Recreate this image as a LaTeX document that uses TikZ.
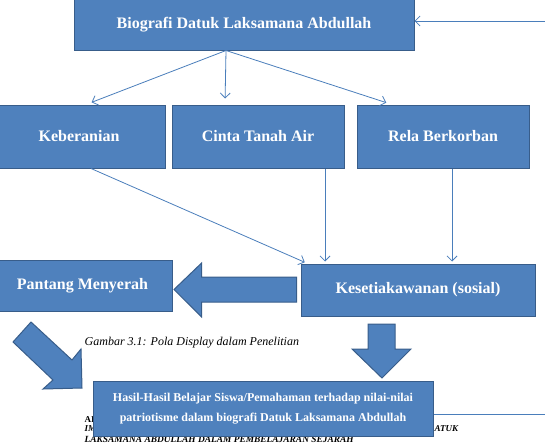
\documentclass[tikz,border=0pt]{standalone}
\usepackage{fontspec}
\setmainfont{Liberation Serif}
\usetikzlibrary{arrows.meta}
\definecolor{biruKotak}{HTML}{4F81BD}
\definecolor{biruTepi}{HTML}{385D8A}
\definecolor{biruGaris}{HTML}{4A7EBB}

\begin{document}
\begin{tikzpicture}[
    x=1pt, y=-1pt,
    % kotak biru dengan tulisan putih tebal
    kotak/.style={rectangle, draw=biruTepi, fill=biruKotak, line width=1pt, inner sep=0pt, text=white, font=\fontsize{16}{19}\selectfont\bfseries},
    % panah tipis antar kotak
    panahTipis/.style={-{Straight Barb[length=5pt,width=10pt]}, color=biruGaris, line width=0.8pt},
    panahBlok/.style={draw=biruTepi, fill=biruKotak, line width=1pt, line join=miter},
    sisaHalaman/.style={anchor=west, inner sep=0pt, font=\fontsize{9}{10}\selectfont\bfseries}
]
    \useasboundingbox (0,0) rectangle (545,442);

    % --- TEKS HALAMAN DI BELAKANG KOTAK ---
    \node[sisaHalaman] (sisaA) at (84.5,420) {AI};
    \node[sisaHalaman, font=\fontsize{9}{10}\selectfont\bfseries\itshape] (sisaB) at (84.5,428.5) {IM};
    \node[sisaHalaman, font=\fontsize{9}{10}\selectfont\bfseries\itshape] (sisaC) at (434.5,429) {ATUK};
    \node[sisaHalaman, font=\fontsize{9.4}{10}\selectfont\bfseries\itshape, anchor=north west] (sisaD) at (84.5,436.5) {LAKSAMANA ABDULLAH DALAM PEMBELAJARAN SEJARAH};

    % --- KOTAK-KOTAK ---
    \node[kotak, minimum width=340pt, minimum height=51pt] (bio) at (244,24.5) {Biografi Datuk Laksamana Abdullah};

    \node[kotak, minimum width=172pt, minimum height=63pt] (keb)   at (79,136.5)  {Keberanian};
    \node[kotak, minimum width=172pt, minimum height=63pt] (cinta) at (258,136.5) {Cinta Tanah Air};
    \node[kotak, minimum width=172pt, minimum height=63pt] (rela)  at (443,136.5) {Rela Berkorban};

    \node[kotak, minimum width=179pt, minimum height=51pt] (pantang) at (82.5,285.5) {Pantang Menyerah};
    \node[kotak, minimum width=234pt, minimum height=52pt] (kes)     at (418,290)    {Kesetiakawanan (sosial)};

    \node[kotak, minimum width=340pt, minimum height=55pt, align=center,
          font=\fontsize{12}{20}\selectfont\bfseries] (hasil) at (263,408.5)
        {Hasil-Hasil Belajar Siswa/Pemahaman terhadap nilai-nilai\\patriotisme dalam biografi Datuk Laksamana Abdullah};

    \node[font=\fontsize{12}{14}\selectfont\itshape, anchor=west, inner sep=0pt] (judul) at (84.5,343)
        {Gambar 3.1: Pola Display dalam Penelitian};

    % --- PANAH TIPIS ---
    \coordinate (luarKanan) at (560,21);
    \draw[panahTipis] (luarKanan) -- ([yshift=3.5pt]bio.east);

    \draw[panahTipis, shorten >=6pt] ([xshift=-18pt]bio.south) -- ([xshift=7pt]keb.north);
    \draw[panahTipis, shorten >=6pt] ([xshift=-18pt]bio.south) -- ([xshift=-33pt]cinta.north);
    \draw[panahTipis, shorten >=6pt] ([xshift=-18pt]bio.south) -- ([xshift=-51pt]rela.north);

    \draw[panahTipis, shorten >=3pt] ([xshift=12pt]keb.south) -- ([xshift=7pt]kes.north west);
    \draw[panahTipis, shorten >=2pt] ([xshift=67pt]cinta.south) -- ([xshift=67pt]cinta.south |- kes.north);
    \draw[panahTipis, shorten >=2pt] ([xshift=9pt]rela.south) -- ([xshift=9pt]rela.south |- kes.north);

    \coordinate (luarBawah) at (560,414);
    \draw[color=biruGaris, line width=0.8pt] ([yshift=-5.5pt]hasil.east) -- (luarBawah);

    % --- PANAH BLOK ---
    \draw[panahBlok] (296.5,277) -- (201.6,277) -- (201.6,263) -- (174,289.5)
        -- (201.6,317) -- (201.6,302) -- (296.5,302) -- cycle;
    \draw[panahBlok] (368,324) -- (395,324) -- (395,349) -- (411,349) -- (382,378)
        -- (352,349) -- (368,349) -- cycle;
    \draw[panahBlok] (31,322) -- (72,360) -- (81,349) -- (82,388) -- (43,389)
        -- (53,380) -- (13,342) -- cycle;

\end{tikzpicture}
\end{document}
